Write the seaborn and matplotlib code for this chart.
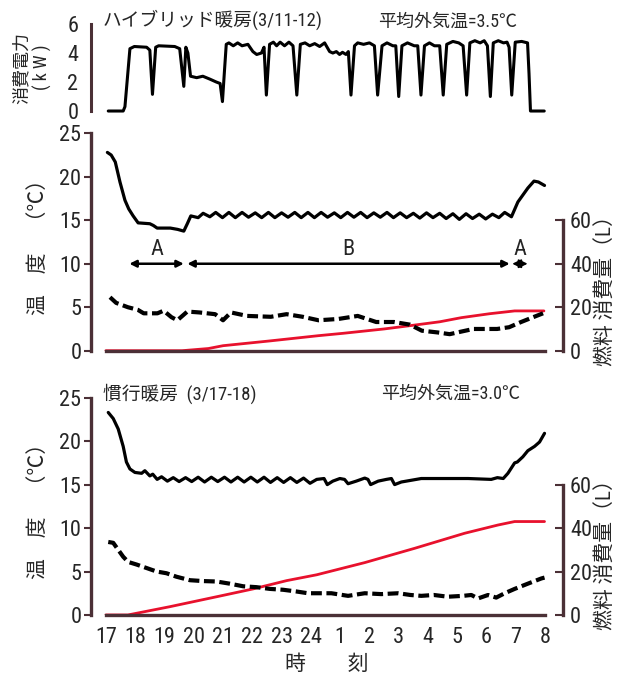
import numpy as np
import pandas as pd
import seaborn as sns
import matplotlib.pyplot as plt
from matplotlib import font_manager

# hours after 17:00 (0 = 17時, 15 = 翌8時)
hour_labels = ['17', '18', '19', '20', '21', '22', '23', '24',
               '1', '2', '3', '4', '5', '6', '7', '8']

# --- hybrid heating 3/11-12 : power (kW)
pw_h = [0.08, 0.59, 0.65, 0.82, 0.97, 1.39, 1.5, 1.59, 1.7, 1.8, 2.35, 2.52, 2.66, 2.73, 2.8,
        2.89, 3.1, 3.31, 3.55, 3.77, 3.9, 3.98, 4.05, 4.11, 4.2, 4.35, 4.5, 4.65, 4.85, 5.02,
        5.15, 5.31, 5.4, 5.48, 5.59, 5.72, 5.83, 5.95, 6.1, 6.25, 6.39, 6.52, 6.64, 6.8, 6.96,
        7.13, 7.3, 7.47, 7.64, 7.75, 7.87, 7.98, 8.08, 8.2, 8.28, 8.37, 8.49, 8.6, 8.8, 9.0,
        9.17, 9.28, 9.43, 9.6, 9.8, 9.9, 10.0, 10.11, 10.3, 10.53, 10.65, 10.76, 10.88, 11.05,
        11.22, 11.4, 11.52, 11.64, 11.85, 12.05, 12.2, 12.32, 12.43, 12.6, 12.78, 12.92, 13.03,
        13.13, 13.23, 13.4, 13.58, 13.7, 13.77, 13.86, 13.98, 14.2, 14.4, 14.45, 14.5, 14.97]
pw_kw = [0, 0, 0.3, 4.3, 4.45, 4.4, 4.2, 1.15, 4.4, 4.5, 4.45, 4.3, 1.7, 4.4, 4.0,
         2.4, 2.3, 2.4, 2.2, 2.0, 1.9, 0.65, 2.8, 4.6, 4.7, 4.5, 4.7, 4.5, 4.6, 4.1,
         3.9, 4.0, 4.4, 1.1, 4.6, 4.75, 4.5, 4.75, 4.5, 4.75, 4.5, 1.1, 4.6, 4.7, 4.5,
         4.65, 4.45, 4.7, 4.1, 4.0, 4.1, 3.9, 4.05, 3.9, 4.1, 1.1, 4.5, 4.7, 4.6, 4.7,
         4.5, 1.1, 4.5, 4.7, 4.5, 4.5, 1.0, 4.5, 4.7, 4.5, 4.5, 1.1, 4.5, 4.7,
         4.5, 4.5, 1.1, 4.6, 4.8, 4.7, 4.5, 1.1, 4.7, 4.85, 4.7, 4.85, 4.5,
         1.0, 4.7, 4.85, 4.7, 4.75, 4.4, 1.1, 4.75, 4.8, 4.7, 2.6, 0, 0]

# --- hybrid heating : room temperature (°C)
hy_room_h = [0.05, 0.18, 0.32, 0.48, 0.65, 0.78, 0.93, 1.1, 1.5, 1.62, 1.75, 2.2, 2.45, 2.66,
             2.78, 2.9, 3.15, 3.32, 3.55, 3.75, 3.98, 4.2, 4.42, 4.65, 4.87, 5.1, 5.32, 5.55,
             5.77, 6.0, 6.22, 6.45, 6.67, 6.9, 7.12, 7.35, 7.57, 7.8, 8.02, 8.25, 8.47, 8.7,
             8.92, 9.15, 9.37, 9.6, 9.82, 10.05, 10.27, 10.5, 10.72, 10.95, 11.17, 11.4, 11.62,
             11.85, 12.07, 12.3, 12.52, 12.75, 12.97, 13.2, 13.42, 13.62, 13.85, 14.07, 14.24,
             14.41, 14.62, 14.77, 14.98]
hy_room_t = [22.8, 22.5, 21.7, 19.4, 17.3, 16.3, 15.5, 14.7, 14.6, 14.4, 14.1, 14.1, 13.95, 13.75,
             14.6, 15.5, 15.3, 15.8, 15.4, 15.9, 15.3, 15.9, 15.3, 15.9, 15.35, 15.85, 15.3, 15.9,
             15.3, 15.85, 15.35, 15.9, 15.3, 15.9, 15.3, 15.9, 15.35, 15.85, 15.3, 15.9, 15.35, 15.9,
             15.3, 15.85, 15.35, 15.9, 15.3, 15.85, 15.3, 15.8, 15.25, 15.85, 15.3, 15.8, 15.2,
             15.75, 15.1, 15.75, 15.2, 15.7, 15.15, 15.7, 15.3, 15.9, 15.4, 17.1, 17.9,
             18.7, 19.5, 19.4, 19.0]

# --- hybrid heating : outside temperature (°C)
hy_out_h = [0.14, 0.35, 0.75, 1.09, 1.29, 1.76, 1.97, 2.24, 2.44, 2.78, 3.19, 3.73, 4.0, 4.27,
            4.82, 5.63, 6.17, 6.72, 7.26, 7.94, 8.6, 9.23, 9.84, 10.38, 10.79, 11.33, 11.74,
            12.14, 12.55, 13.36, 13.77, 14.18, 14.59, 14.93]
hy_out_t = [6.15, 5.5, 5.0, 4.7, 4.3, 4.3, 4.6, 3.85, 3.5, 4.5, 4.4, 4.2, 3.5, 4.4,
            4.0, 3.9, 4.2, 3.9, 3.5, 3.65, 4.0, 3.3, 3.3, 3.0, 2.3, 2.1, 1.9,
            2.2, 2.5, 2.5, 2.7, 3.3, 3.85, 4.3]

# --- hybrid heating : cumulative fuel (L)
hy_fuel_h = [0.0, 2.6, 3.5, 4.0, 5.6, 7.25, 8.1, 9.5, 10.55, 11.4, 12.14, 13.1, 13.96, 14.96]
hy_fuel_l = [0.0, 0.0, 1.0, 2.3, 4.5, 6.9, 8.0, 10.0, 11.8, 13.3, 15.2, 17.0, 18.3, 18.3]

# --- conventional heating 3/17-18 : room temperature (°C)
cv_room_h = [0.08, 0.25, 0.42, 0.59, 0.7, 0.82, 0.99, 1.22, 1.33, 1.5, 1.6, 1.75, 1.9, 2.1, 2.3,
             2.5, 2.72, 2.93, 3.15, 3.37, 3.6, 3.82, 4.05, 4.27, 4.5, 4.72, 4.95, 5.17, 5.4,
             5.62, 5.85, 6.07, 6.3, 6.52, 6.75, 6.97, 7.2, 7.45, 7.56, 7.75, 7.99, 8.15, 8.27,
             8.55, 8.84, 8.95, 9.04, 9.3, 9.58, 9.75, 9.86, 10.09, 10.43, 10.77, 12.37, 13.16,
             13.37, 13.57, 13.73, 13.96, 14.05, 14.24, 14.41, 14.64, 14.81, 14.98]
cv_room_t = [23.3, 22.6, 21.4, 19.4, 17.6, 16.8, 16.4, 16.3, 16.6, 16.0, 16.2, 15.6, 15.9, 15.4, 15.8,
             15.35, 15.8, 15.35, 15.85, 15.3, 15.85, 15.35, 15.85, 15.3, 15.85, 15.3, 15.85, 15.3, 15.85,
             15.25, 15.8, 15.25, 15.8, 15.25, 15.75, 15.15, 15.6, 15.7, 15.0, 15.4, 15.7, 15.6, 15.1,
             15.4, 15.75, 15.6, 15.0, 15.4, 15.6, 15.7, 15.0, 15.3, 15.5, 15.7, 15.7, 15.6,
             15.8, 15.7, 16.3, 17.5, 17.6, 18.2, 18.9, 19.4, 19.9, 20.9]

# --- conventional heating : outside temperature (°C)
cv_out_h = [0.08, 0.25, 0.42, 0.59, 0.76, 1.05, 1.39, 1.73, 2.07, 2.41, 2.87, 3.32, 3.78, 4.23,
            4.69, 5.14, 5.6, 6.05, 6.51, 6.9, 7.25, 7.7, 8.27, 8.84, 9.4, 9.98, 10.4, 10.77,
            11.2, 11.68, 12.2, 12.48, 12.71, 13.05, 13.33, 13.62, 13.96, 14.41, 14.87, 14.98]
cv_out_t = [8.4, 8.3, 7.5, 6.7, 6.1, 5.8, 5.4, 5.0, 4.8, 4.4, 4.0, 3.9, 3.85, 3.6,
            3.3, 3.2, 3.0, 2.9, 2.7, 2.5, 2.5, 2.5, 2.2, 2.5, 2.4, 2.5, 2.3, 2.2,
            2.3, 2.1, 2.2, 2.3, 1.9, 2.3, 2.0, 2.5, 3.0, 3.6, 4.2, 4.3]

# --- conventional heating : cumulative fuel (L)
cv_fuel_h = [0.0, 0.75, 2.18, 3.89, 5.03, 6.17, 7.2, 8.84, 10.55, 12.25, 13.39, 13.96, 14.98]
cv_fuel_l = [0.0, 0.0, 3.8, 8.7, 12.0, 15.8, 18.5, 24.1, 30.7, 37.6, 41.4, 43.0, 43.0]

sns.set_style("white")

# pick a narrow latin face if one is installed (reference uses condensed digits)
installed = {f.name for f in font_manager.fontManager.ttflist}
narrow = 'DejaVu Sans'
for cand in ['Liberation Sans Narrow', 'Roboto Condensed', 'Open Sans Condensed',
             'Noto Sans Condensed', 'DejaVu Sans Condensed']:
    if cand in installed:
        narrow = cand
        break
plt.rcParams['font.family'] = [narrow, 'Noto Sans CJK JP', 'DejaVu Sans']

DARK = '#4b3036'
RED = '#e8112d'
FS = 16
XLIM = (-0.51, 15.61)

fig = plt.figure(figsize=(6.24, 6.79), dpi=100)
ax_p = fig.add_axes([0.1458, 0.8365, 0.7564, 0.1281])
ax_m = fig.add_axes([0.1458, 0.4835, 0.7564, 0.3202])
ax_b = fig.add_axes([0.1458, 0.0943, 0.7564, 0.3200])

# ---------------- power panel
sns.lineplot(x=pw_h, y=pw_kw, ax=ax_p, color='black', lw=2.2, sort=False,
             estimator=None, clip_on=False)
ax_p.set_xlim(*XLIM)
ax_p.set_ylim(0, 6)
for s in ['top', 'right', 'bottom']:
    ax_p.spines[s].set_visible(False)
ax_p.spines['left'].set_color(DARK)
ax_p.spines['left'].set_linewidth(2.2)
ax_p.set_xticks([])
ax_p.set_yticks(range(7))
ax_p.set_yticklabels(['0', '', '2', '', '4', '', '6'], fontsize=FS)
ax_p.tick_params(axis='y', direction='in', length=6, width=1.5, color=DARK, pad=9)
ax_p.set_ylabel('消費電力\n( k W )', fontsize=13, linespacing=1.1)
ax_p.yaxis.set_label_coords(-0.083, 0.5)
ax_p.text(0.025, 1.05, 'ハイブリッド暖房(3/11-12)', transform=ax_p.transAxes,
          fontsize=13.5, va='center', ha='left')
ax_p.text(0.608, 1.03, '平均外気温=3.5℃', transform=ax_p.transAxes,
          fontsize=13, va='center', ha='left')


def temp_panel(ax, room_h, room_t, out_h, out_t, fuel_h, fuel_l, bottom):
    sns.lineplot(x=room_h, y=room_t, ax=ax, color='black', lw=2.3, sort=False, estimator=None)
    sns.lineplot(x=out_h, y=out_t, ax=ax, color='black', lw=3.0, sort=False, estimator=None,
                 linestyle=(0, (2.6, 1.1)))
    ax2 = ax.twinx()
    sns.lineplot(x=fuel_h, y=fuel_l, ax=ax2, color=RED, lw=2.0, sort=False, estimator=None,
                 zorder=1)
    ax.set_zorder(ax2.get_zorder() + 1)
    ax.patch.set_visible(False)

    ax.set_xlim(*XLIM)
    ax.set_ylim(0, 25)
    ax2.set_ylim(0, 100)
    for a in (ax, ax2):
        a.spines['top'].set_visible(False)
    ax.spines['right'].set_visible(False)
    ax2.spines['left'].set_visible(False)
    ax2.spines['bottom'].set_visible(False)
    ax.spines['left'].set_bounds(0, 25)
    ax.spines['bottom'].set_bounds(0, 15)
    ax2.spines['right'].set_bounds(0, 60)
    for sp in (ax.spines['left'], ax.spines['bottom'], ax2.spines['right']):
        sp.set_color(DARK)
        sp.set_linewidth(2.4)

    ax.set_yticks([0, 5, 10, 15, 20, 25])
    ax.set_yticklabels(['0', '5', '10', '15', '20', '25'], fontsize=FS)
    ax.tick_params(axis='y', direction='out', length=5, width=1.5, color=DARK, pad=2)
    ax2.set_yticks([0, 20, 40, 60])
    ax2.set_yticklabels(['0', '20', '40', '60'], fontsize=FS)
    ax2.tick_params(axis='y', direction='in', length=6, width=1.5, color=DARK, pad=5)

    ax.set_xticks(range(16))
    if bottom:
        ax.set_xticklabels(hour_labels, fontsize=FS)
        ax.set_xlabel('時　　刻', fontsize=15, labelpad=4)
    else:
        ax.set_xticklabels([])
    ax.tick_params(axis='x', direction='in', length=6, width=1.5, color=DARK, pad=9)

    ax.set_ylabel('温　度　（℃）', fontsize=15)
    ax.yaxis.set_label_coords(-0.092, 0.5)
    ax2.set_ylabel('燃料 消費量（L）', fontsize=15, rotation=90)
    ax2.yaxis.set_label_coords(1.07, 0.30)
    return ax2


temp_panel(ax_m, hy_room_h, hy_room_t, hy_out_h, hy_out_t, hy_fuel_h, hy_fuel_l, False)
temp_panel(ax_b, cv_room_h, cv_room_t, cv_out_h, cv_out_t, cv_fuel_h, cv_fuel_l, True)

# operation periods A / B
arrow = dict(arrowstyle='<|-|>', color='black', lw=1.8, mutation_scale=10,
             shrinkA=0, shrinkB=0)
ax_m.annotate('', xy=(0.8, 10), xytext=(2.66, 10), arrowprops=arrow)
ax_m.annotate('', xy=(2.78, 10), xytext=(13.79, 10), arrowprops=arrow)
ax_m.annotate('', xy=(13.88, 10), xytext=(14.4, 10),
              arrowprops=dict(arrow, mutation_scale=13, lw=1.2))
ax_m.text(1.75, 10.4, 'A', fontsize=FS, ha='center', va='bottom')
ax_m.text(8.27, 10.4, 'B', fontsize=FS, ha='center', va='bottom')
ax_m.text(14.15, 10.4, 'A', fontsize=FS, ha='center', va='bottom')

ax_b.text(0.025, 1.02, '慣行暖房  (3/17-18)', transform=ax_b.transAxes,
          fontsize=13.5, va='center', ha='left')
ax_b.text(0.615, 1.02, '平均外気温=3.0℃', transform=ax_b.transAxes,
          fontsize=13, va='center', ha='left')

fig.savefig('out.png', dpi=100)
